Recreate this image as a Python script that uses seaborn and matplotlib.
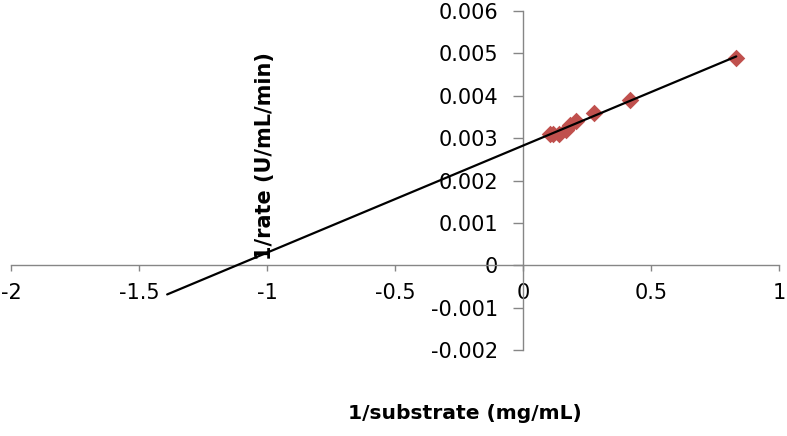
import numpy as np
import pandas as pd
import matplotlib
matplotlib.use("Agg")
import matplotlib.pyplot as plt
import seaborn as sns

# Data
inv_substrate = [0.833, 0.417, 0.278, 0.208, 0.185, 0.167, 0.139, 0.119, 0.104]
inv_rate = [0.0049, 0.0039, 0.0036, 0.0034, 0.0033, 0.0032, 0.0031, 0.0031, 0.0031]
trend_start = -1.39  # backward forecast of the trendline

x_ticks = [-2, -1.5, -1, -0.5, 0, 0.5, 1]
x_ticklabels = ["-2", "-1.5", "-1", "-0.5", "0", "0.5", "1"]
y_ticks = [-0.002, -0.001, 0, 0.001, 0.002, 0.003, 0.004, 0.005, 0.006]
y_ticklabels = ["-0.002", "-0.001", "0", "0.001", "0.002", "0.003", "0.004", "0.005", "0.006"]

sns.set_theme(style="white")
plt.rcParams['font.family'] = ['DejaVu Sans']
plt.rcParams['axes.unicode_minus'] = False

df = pd.DataFrame({"x": inv_substrate, "y": inv_rate})
slope, intercept = np.polyfit(df["x"], df["y"], 1)
tx = np.array([trend_start, max(inv_substrate)])
trend = pd.DataFrame({"x": tx, "y": slope * tx + intercept})

fig = plt.figure(figsize=(7.87, 4.36), dpi=100)
ax = fig.add_axes([11/787, 1 - 350/436, (779 - 11)/787, (350 - 11)/436])

sns.scatterplot(data=df, x="x", y="y", marker="D", s=80, color="#C0504D",
                edgecolor="#C0504D", linewidth=0, ax=ax, zorder=3)
sns.lineplot(data=trend, x="x", y="y", color="black", linewidth=1.6, ax=ax, zorder=4)

ax.set_xlim(-2, 1)
ax.set_ylim(-0.002, 0.006)
ax.spines['left'].set_position(('data', 0))
ax.spines['bottom'].set_position(('data', 0))
ax.spines['top'].set_visible(False)
ax.spines['right'].set_visible(False)
for s in ['left', 'bottom']:
    ax.spines[s].set_color('#868686')
    ax.spines[s].set_linewidth(1.0)

ax.set_xticks(x_ticks)
ax.set_xticklabels(x_ticklabels)
ax.set_yticks(y_ticks)
ax.set_yticklabels(y_ticklabels)
ax.tick_params(axis='both', which='both', direction='out', width=1,
               bottom=True, left=True, top=False, right=False,
               color='#868686', labelsize=15, labelcolor='black')
ax.tick_params(axis='x', length=4.5, pad=8)
ax.tick_params(axis='y', length=7, pad=11)

ax.set_xlabel("")
ax.set_ylabel("")
fig.text(465/787, 1 - 413/436, "1/substrate (mg/mL)", ha='center', va='center',
         fontsize=14.6, fontweight='bold', color='black')
fig.text(265/787, 1 - 156/436, "1/rate (U/mL/min)", ha='center', va='center',
         rotation=90, fontsize=15, fontweight='bold', color='black')

fig.savefig("out.png", dpi=100)
